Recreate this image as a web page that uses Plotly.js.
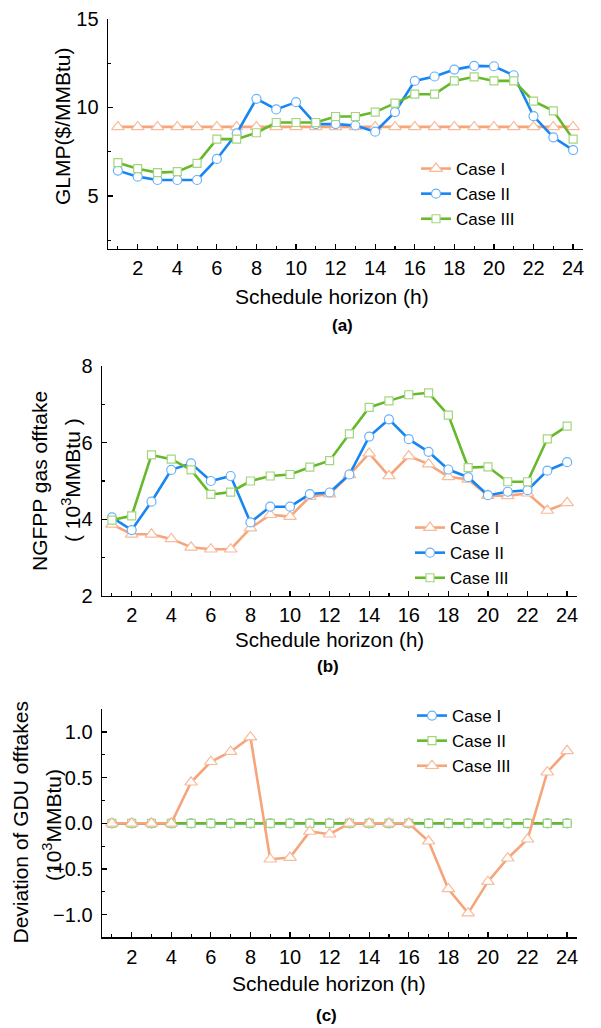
<!DOCTYPE html>
<html>
<head>
<meta charset="utf-8">
<script src="https://cdn.plot.ly/plotly-3.0.1.min.js"></script>
<style>html,body{margin:0;padding:0;background:#fff;}#chart{width:601px;height:1028px;}</style>
</head>
<body>
<div id="chart"></div>
<script>
// ---------- data ----------
var hours = [1,2,3,4,5,6,7,8,9,10,11,12,13,14,15,16,17,18,19,20,21,22,23,24];
var caseNames = ["Case I", "Case II", "Case III"];

// (a) GLMP ($/MMBtu)
var glmpCase1 = [8.9,8.9,8.9,8.9,8.9,8.9,8.9,8.9,8.9,8.9,8.9,8.9,8.9,8.9,8.9,8.9,8.9,8.9,8.9,8.9,8.9,8.9,8.9,8.9];
var glmpCase2 = [6.43,6.09,5.90,5.90,5.90,7.09,8.53,10.49,9.89,10.30,9.06,9.06,8.98,8.63,9.74,11.50,11.75,12.14,12.35,12.33,11.82,9.51,8.31,7.59];
var glmpCase3 = [6.88,6.54,6.32,6.37,6.84,8.21,8.21,8.57,9.15,9.15,9.15,9.49,9.49,9.74,10.24,10.75,10.75,11.50,11.73,11.50,11.50,10.36,9.81,8.21];

// (b) NGFPP gas offtake (10^3 MMBtu)
var gasCase1 = [3.87,3.61,3.61,3.49,3.27,3.22,3.22,3.77,4.12,4.07,4.59,4.66,5.16,5.72,5.13,5.65,5.44,5.11,5.04,4.62,4.61,4.68,4.23,4.43];
var gasCase2 = [4.05,3.72,4.46,5.29,5.46,5.00,5.13,3.92,4.33,4.33,4.66,4.70,5.17,6.16,6.61,6.09,5.76,5.30,5.10,4.63,4.72,4.76,5.27,5.49];
var gasCase3 = [3.98,4.09,5.68,5.57,5.29,4.65,4.71,5.00,5.13,5.17,5.36,5.53,6.23,6.92,7.09,7.25,7.30,6.72,5.35,5.37,4.98,4.98,6.10,6.43];

// (c) Deviation of GDU offtakes (10^3 MMBtu)
var devCase1 = [0,0,0,0,0,0,0,0,0,0,0,0,0,0,0,0,0,0,0,0,0,0,0,0];
var devCase2 = [0,0,0,0,0,0,0,0,0,0,0,0,0,0,0,0,0,0,0,0,0,0,0,0];
var devCase3 = [0,0,0,0,0.45,0.675,0.785,0.945,-0.394,-0.376,-0.09,-0.12,0,0,0,0,-0.197,-0.72,-0.985,-0.64,-0.383,-0.175,0.56,0.795];

// ---------- styles ----------
var FONT = "Arial, 'Liberation Sans', sans-serif";
var ORANGE = {line:"#F6A47A", edge:"#F8BB9B", sym:"triangle-up", size:11};
var BLUE   = {line:"#1785F2", edge:"#67B1FB", sym:"circle", size:9};
var GREEN  = {line:"#67B82C", edge:"#A3D67E", sym:"square", size:8};

function tr(y, st, name, xa, ya, leg){
  return {
    x: hours, y: y, name: name, type: "scatter", mode: "lines+markers",
    xaxis: xa, yaxis: ya, legend: leg,
    line: {color: st.line, width: 2.6},
    marker: {symbol: st.sym, size: st.size, color: "#ffffff",
             line: {color: st.edge, width: 1.2}}
  };
}

var data = [
  tr(glmpCase1, ORANGE, caseNames[0], "x", "y", "legend"),
  tr(glmpCase2, BLUE,   caseNames[1], "x", "y", "legend"),
  tr(glmpCase3, GREEN,  caseNames[2], "x", "y", "legend"),
  tr(gasCase1, ORANGE, caseNames[0], "x2", "y2", "legend2"),
  tr(gasCase2, BLUE,   caseNames[1], "x2", "y2", "legend2"),
  tr(gasCase3, GREEN,  caseNames[2], "x2", "y2", "legend2"),
  tr(devCase1, BLUE,   caseNames[0], "x3", "y3", "legend3"),
  tr(devCase2, GREEN,  caseNames[1], "x3", "y3", "legend3"),
  tr(devCase3, ORANGE, caseNames[2], "x3", "y3", "legend3")
];

var W = 601, H = 1028;
function px(v){ return v / W; }
function py(v){ return 1 - v / H; }

function xax(d0, d1, anchor){
  return {
    domain: [d0, d1], anchor: anchor, range: [0.5, 24.5],
    tick0: 0, dtick: 2, ticks: "inside", ticklen: 5, tickwidth: 1.2, tickcolor: "#000",
    minor: {dtick: 1, ticks: "inside", ticklen: 3, tickwidth: 1.1, tickcolor: "#000"},
    showline: true, linecolor: "#000", linewidth: 1.4, showgrid: false, zeroline: false,
    ticklabelstandoff: 1,
    tickfont: {family: FONT, size: 20, color: "#000"}
  };
}
function yax(d0, d1, anchor, rng, dt, mdt, fmt){
  return {
    domain: [d0, d1], anchor: anchor, range: rng,
    tick0: 0, dtick: dt, ticks: "inside", ticklen: 5, tickwidth: 1.2, tickcolor: "#000",
    minor: {dtick: mdt, ticks: "inside", ticklen: 3, tickwidth: 1.1, tickcolor: "#000"},
    showline: true, linecolor: "#000", linewidth: 1.4, showgrid: false, zeroline: false,
    tickformat: fmt || "", ticklabelstandoff: 4,
    tickfont: {family: FONT, size: 20, color: "#000"}
  };
}
function leg(xpx, ypx){
  return {x: px(xpx), y: py(ypx), xanchor: "left", yanchor: "top",
          bgcolor: "rgba(0,0,0,0)", borderwidth: 0,
          font: {family: FONT, size: 17, color: "#000"}, tracegroupgap: 0};
}
function ann(text, xpx, ypx, size, bold, angle){
  return {text: bold ? "<b>" + text + "</b>" : text, x: px(xpx), y: py(ypx),
          xref: "paper", yref: "paper", xanchor: "center", yanchor: "middle",
          showarrow: false, textangle: angle || 0,
          font: {family: FONT, size: size, color: "#000"}};
}

var layout = {
  width: W, height: H, margin: {l: 0, r: 0, t: 0, b: 0},
  paper_bgcolor: "#fff", plot_bgcolor: "#fff", showlegend: true,
  font: {family: FONT, color: "#000"},
  xaxis:  xax(px(108), px(583), "y"),
  yaxis:  yax(py(249), py(19), "x", [2, 15], 5, 2.5),
  xaxis2: xax(px(102), px(577), "y2"),
  yaxis2: yax(py(596), py(366), "x2", [2, 8], 2, 1),
  xaxis3: xax(px(102), px(577), "y3"),
  yaxis3: yax(py(937.3), py(709.3), "x3", [-1.25, 1.25], 0.5, 0.25, ".1f"),
  legend:  leg(416, 151),
  legend2: leg(410, 510),
  legend3: leg(412, 698),
  annotations: [
    ann("GLMP($/MMBtu)", 62.5, 126.5, 21, false, -90),
    ann("Schedule horizon (h)", 332, 296, 21, false, 0),
    ann("(a)", 342, 325, 17, true, 0),
    ann("NGFPP gas offtake", 39, 481, 21, false, -90),
    ann("( 10<sup>3</sup>MMBtu )", 71, 480, 21, false, -90),
    ann("Schedule horizon (h)", 329, 639, 20.5, false, 0),
    ann("(b)", 328, 666, 17, true, 0),
    ann("Deviation of GDU offtakes", 20, 822.5, 21, false, -90),
    ann("(10<sup>3</sup>MMBtu)", 52, 825, 21, false, -90),
    ann("Schedule horizon (h)", 329, 983, 21, false, 0),
    ann("(c)", 326, 1015, 17, true, 0)
  ]
};

Plotly.newPlot("chart", data, layout, {displayModeBar: false, staticPlot: true});
</script>
</body>
</html>
